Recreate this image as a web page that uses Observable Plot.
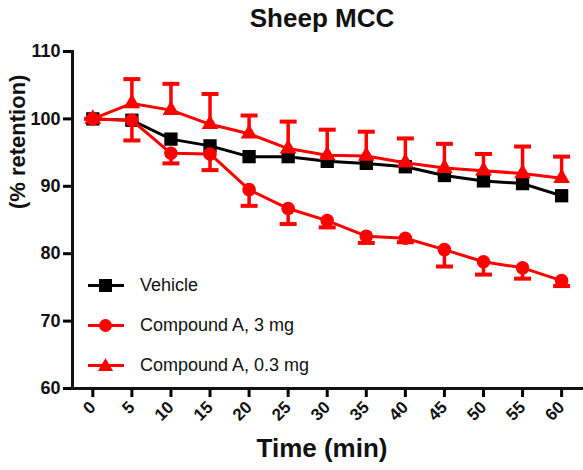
<!DOCTYPE html>
<html>
<head>
<meta charset="utf-8">
<script src="https://cdn.jsdelivr.net/npm/d3@7"></script>
<script src="https://cdn.jsdelivr.net/npm/@observablehq/plot@0.6"></script>
<style>
  html, body { margin: 0; padding: 0; background: #fff; }
  #wrap { position: relative; width: 583px; height: 470px; font-family: "Liberation Sans", Arial, sans-serif; }
  #legend { position: absolute; left: 87px; top: 265px; }
  .row { display: flex; align-items: center; height: 40px; font-size: 18px; color: #111; }
  .row svg { margin-right: 15px; }
</style>
</head>
<body>
<div id="wrap"></div>
<script>
const title = "Sheep MCC";
const xLabel = "Time (min)";
const yLabel = "(% retention)";
const time = [0, 5, 10, 15, 20, 25, 30, 35, 40, 45, 50, 55, 60];
const xTicks = [0, 5, 10, 15, 20, 25, 30, 35, 40, 45, 50, 55, 60];
const yTicks = [60, 70, 80, 90, 100, 110];
const seriesNames = ["Vehicle", "Compound A, 3 mg", "Compound A, 0.3 mg"];
const seriesColors = ["#000000", "#ff0000", "#ff0000"];
const vehicle = [100, 99.8, 97.0, 96.0, 94.4, 94.4, 93.7, 93.4, 92.9, 91.6, 90.8, 90.4, 88.6];
const cmp3 = [100, 99.8, 94.9, 94.8, 89.5, 86.7, 84.9, 82.6, 82.3, 80.6, 78.8, 77.9, 76.0];
const cmp3Err = [0, 3.0, 1.5, 2.4, 2.4, 2.3, 1.0, 1.0, 0.6, 2.5, 1.9, 1.6, 0.8];
const cmp03 = [100, 102.3, 101.3, 99.2, 97.8, 95.6, 94.6, 94.5, 93.5, 92.7, 92.3, 91.9, 91.2];
const cmp03Err = [0, 3.6, 3.9, 4.5, 2.7, 4.0, 3.8, 3.6, 3.6, 3.6, 2.5, 4.0, 3.2];

const rows = (vals, errs, dir) => time.map((t, i) => ({
  t, v: vals[i], e: errs ? vals[i] + dir * errs[i] : vals[i]
}));
const dVeh = rows(vehicle, null, 0);
const d3mg = rows(cmp3, cmp3Err, -1);
const d03 = rows(cmp03, cmp03Err, 1);

const capSymbol = {
  draw(context, size) {
    const w = 8.5;
    context.moveTo(-w, 0);
    context.lineTo(w, 0);
  }
};

const FONT = "Liberation Sans, Arial, sans-serif";

const chart = Plot.plot({
  width: 583,
  height: 470,
  marginLeft: 72,
  marginRight: 0,
  marginTop: 51,
  marginBottom: 82,
  style: { fontFamily: FONT, background: "#fff", overflow: "visible" },
  x: { domain: [-2.6, 62.8] },
  y: { domain: [60, 110] },
  marks: [
    Plot.axisY({ ticks: yTicks, tickSize: 9, tickPadding: 3, strokeWidth: 3, fontSize: 18, fontWeight: "bold", fill: "#111", label: null }),
    Plot.axisX({ ticks: xTicks, tickSize: 9, tickPadding: 7, strokeWidth: 3, fontSize: 17, fontWeight: "bold", fill: "#111", tickRotate: -45, label: null }),
    Plot.frame({ anchor: "left", strokeWidth: 3, stroke: "#111" }),
    Plot.frame({ anchor: "bottom", strokeWidth: 3, stroke: "#111" }),
    // Vehicle
    Plot.line(dVeh, { x: "t", y: "v", stroke: seriesColors[0], strokeWidth: 3 }),
    Plot.dot(dVeh, { x: "t", y: "v", symbol: "square", r: 7.5, fill: seriesColors[0] }),
    // Compound A, 3 mg (errors below)
    Plot.ruleX(d3mg, { x: "t", y1: "v", y2: "e", stroke: seriesColors[1], strokeWidth: 3.5 }),
    Plot.dot(d3mg, { x: "t", y: "e", symbol: capSymbol, stroke: seriesColors[1], strokeWidth: 4 }),
    Plot.line(d3mg, { x: "t", y: "v", stroke: seriesColors[1], strokeWidth: 3 }),
    Plot.dot(d3mg, { x: "t", y: "v", symbol: "circle", r: 6.8, fill: seriesColors[1] }),
    // Compound A, 0.3 mg (errors above)
    Plot.ruleX(d03, { x: "t", y1: "v", y2: "e", stroke: seriesColors[2], strokeWidth: 3.5 }),
    Plot.dot(d03, { x: "t", y: "e", symbol: capSymbol, stroke: seriesColors[2], strokeWidth: 4 }),
    Plot.line(d03, { x: "t", y: "v", stroke: seriesColors[2], strokeWidth: 3 }),
    Plot.dot(d03, { x: "t", y: "v", symbol: "triangle", r: 6.2, fill: seriesColors[2] }),
    // titles
    Plot.text([title], { frameAnchor: "top", dx: -6, dy: -33, lineAnchor: "middle", fontSize: 26, fontWeight: "bold", fill: "#111" }),
    Plot.text([xLabel], { frameAnchor: "bottom", dx: -6, dy: 60, lineAnchor: "middle", fontSize: 26, fontWeight: "bold", fill: "#111" }),
    Plot.text([yLabel], { frameAnchor: "left", dx: -55, dy: -11, rotate: -90, lineAnchor: "middle", fontSize: 22, fontWeight: "bold", fill: "#111" })
  ]
});

const wrap = document.getElementById("wrap");
wrap.appendChild(chart);

// Legend
const legend = document.createElement("div");
legend.id = "legend";
const symbolsSvg = [
  `<rect x="12" y="3" width="13" height="13" fill="${seriesColors[0]}"/>`,
  `<circle cx="18.5" cy="9.5" r="6.5" fill="${seriesColors[1]}"/>`,
  `<path d="M18.5,2 L26,15 L11,15 Z" fill="${seriesColors[2]}"/>`
];
seriesNames.forEach((name, i) => {
  const row = document.createElement("div");
  row.className = "row";
  row.innerHTML = `<svg width="38" height="19"><line x1="1" x2="37" y1="9.5" y2="9.5" stroke="${seriesColors[i]}" stroke-width="3"/>${symbolsSvg[i]}</svg><span>${name}</span>`;
  legend.appendChild(row);
});
wrap.appendChild(legend);
</script>
</body>
</html>
